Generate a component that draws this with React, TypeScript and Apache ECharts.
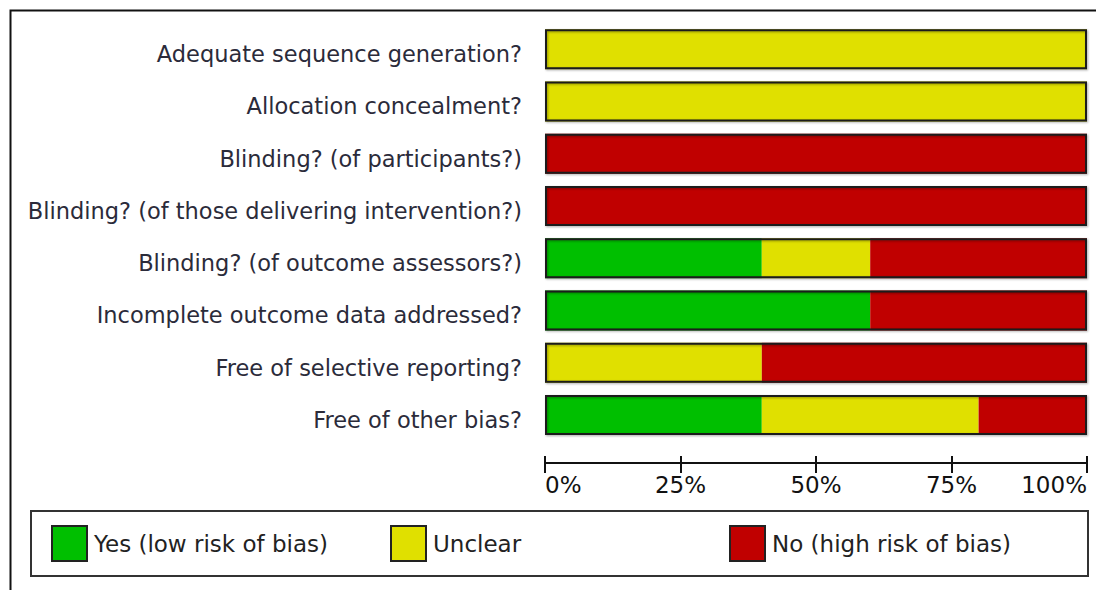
import React, { useEffect, useRef } from "react";
import * as echarts from "echarts";

const categories = [
  "Adequate sequence generation?",
  "Allocation concealment?",
  "Blinding? (of participants?)",
  "Blinding? (of those delivering intervention?)",
  "Blinding? (of outcome assessors?)",
  "Incomplete outcome data addressed?",
  "Free of selective reporting?",
  "Free of other bias?",
];
const yesValues = [0, 0, 0, 0, 40, 60, 0, 40];
const unclearValues = [100, 100, 0, 0, 20, 0, 40, 40];
const noValues = [0, 0, 100, 100, 40, 40, 60, 20];
const totalValues = [100, 100, 100, 100, 100, 100, 100, 100];
const seriesNames = ["Yes (low risk of bias)", "Unclear", "No (high risk of bias)"];
const seriesColors = ["#00bf00", "#e0e000", "#c00000"];
const legendLefts = [51, 390, 729];

const FONT = "DejaVu Sans";

export default function App() {
  const ref = useRef<HTMLDivElement>(null);
  useEffect(() => {
    if (!ref.current) return;
    const chart = echarts.init(ref.current, undefined, { renderer: "svg" });
    const seriesData = [yesValues, unclearValues, noValues];
    const baseAxis = {
      type: "value" as const,
      min: 0,
      max: 100,
      interval: 25,
      position: "bottom" as const,
      offset: 22,
      splitLine: { show: false },
    };
    chart.setOption({
      animation: false,
      backgroundColor: "#ffffff",
      grid: { left: 545, right: 9, top: 23, bottom: 149, containLabel: false },
      xAxis: [
        {
          ...baseAxis,
          axisLine: { show: true, lineStyle: { color: "#111", width: 2 } },
          axisTick: { show: true, length: 10, lineStyle: { color: "#111", width: 2 } },
          axisLabel: {
            formatter: "{value}%",
            fontFamily: FONT,
            fontSize: 23,
            color: "#111",
            margin: 10,
            alignMinLabel: "left",
            alignMaxLabel: "right",
          },
        },
        {
          ...baseAxis,
          axisLine: { show: false },
          axisTick: { show: true, inside: true, length: 7, lineStyle: { color: "#111", width: 2 } },
          axisLabel: { show: false },
        },
      ],
      yAxis: {
        type: "category",
        data: categories,
        inverse: true,
        axisLine: { show: false },
        axisTick: { show: false },
        axisLabel: {
          margin: 23,
          formatter: "{t|{value}}",
          rich: {
            t: {
              fontFamily: FONT,
              fontSize: 22.5,
              color: "#2b2b3a",
              padding: [10, 0, 0, 0],
            },
          },
        },
      },
      legend: seriesNames.map((name, i) => ({
        data: [name],
        left: legendLefts[i],
        top: 525,
        orient: "horizontal",
        padding: 0,
        itemWidth: 35,
        itemHeight: 35,
        icon: "rect",
        itemStyle: { borderColor: "#222", borderWidth: 2 },
        textStyle: { fontFamily: FONT, fontSize: 23, color: "#222", padding: [0, 0, 0, 2] },
        selectedMode: false,
      })),
      series: [
        ...seriesNames.map((name, i) => ({
          name,
          type: "bar",
          stack: "total",
          barWidth: 40,
          data: seriesData[i],
          itemStyle: { color: seriesColors[i] },
        })),
        {
          name: "outline",
          type: "bar",
          barWidth: 40,
          barGap: "-100%",
          data: totalValues,
          z: 5,
          silent: true,
          itemStyle: {
            color: "rgba(0,0,0,0)",
            borderColor: "#1a1a1a",
            borderWidth: 2,
            shadowColor: "rgba(0,0,0,0.35)",
            shadowBlur: 2,
            shadowOffsetX: 1,
            shadowOffsetY: 1,
          },
        },
      ],
      graphic: [
        {
          type: "rect",
          shape: { x: 10.5, y: 10.5, width: 2000, height: 2000 },
          style: { fill: "none", stroke: "#111", lineWidth: 2 },
          silent: true,
        },
        {
          type: "rect",
          shape: { x: 31, y: 511, width: 1057, height: 65 },
          style: { fill: "none", stroke: "#333", lineWidth: 2 },
          silent: true,
        },
      ],
    });
    return () => chart.dispose();
  }, []);
  return (
    <div
      ref={ref}
      style={{ position: "fixed", left: 0, top: 0, width: 1096, height: 590, background: "#fff" }}
    />
  );
}
